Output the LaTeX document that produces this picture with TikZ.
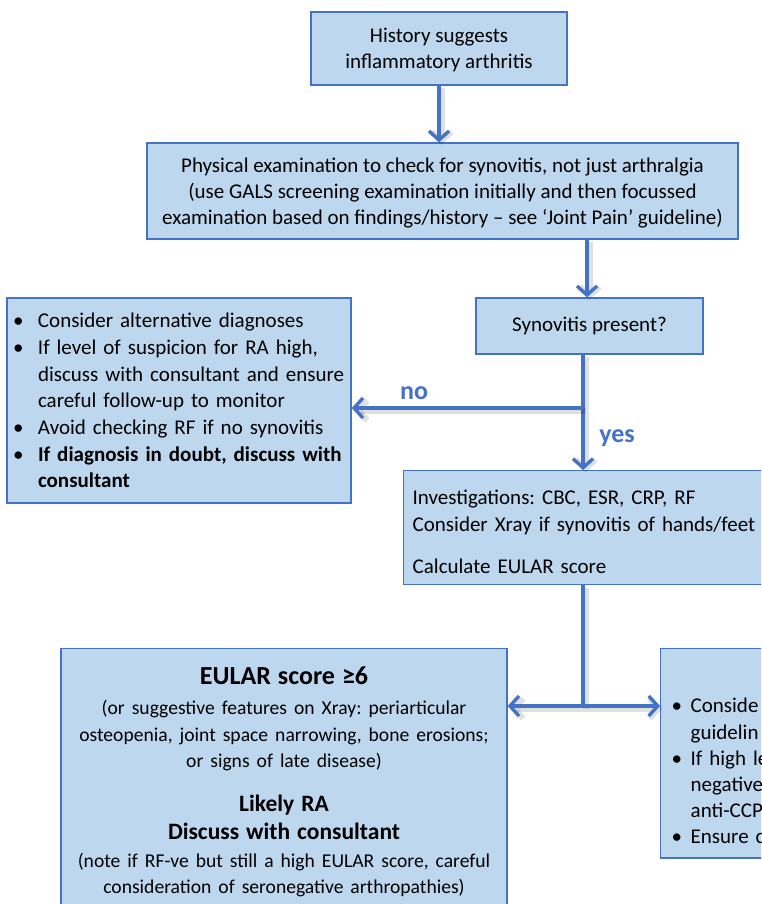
\documentclass[tikz,border=0pt]{standalone}
\usepackage{fontspec}
\setmainfont{Carlito}
\usepackage{tikz}
\usetikzlibrary{arrows.meta,positioning,calc}
\usepackage{xcolor}
\definecolor{flowblue}{HTML}{4472C4}
\definecolor{boxfill}{HTML}{BDD7EE}
\newcommand{\bodysize}{\fontsize{21}{26.2}\selectfont\frenchspacing}
\newcommand{\smallsize}{\fontsize{19.6}{26.5}\selectfont}
\newcommand{\bul}[1][19pt]{\makebox[#1][l]{\textbullet}}
\newcommand{\hang}[1][19pt]{\hspace*{#1}}

\begin{document}
\begin{tikzpicture}[
  x=1pt, y=-1pt,
  box/.style={draw=flowblue, line width=1.4pt, fill=boxfill, align=center, font=\bodysize, inner sep=0pt},
  listbox/.style={box, align=left},
  arr/.style={draw=flowblue, line width=3.4pt, -{Straight Barb[length=9pt,width=20pt]}, shade},
  plain/.style={draw=flowblue, line width=3.4pt, shade},
  shade/.style={preaction={draw=black, opacity=0.12, line width=6pt, transform canvas={shift={(2.5pt,-2.5pt)}}}},
  lbl/.style={text=flowblue, font=\fontsize{26}{30}\selectfont\bfseries, inner sep=0pt}
]
  \useasboundingbox (0,0) rectangle (761,904);
  \clip (0,0) rectangle (761,904);

  \node[box, minimum width=256pt, minimum height=73pt, text depth=0pt] (hist) at (439,48.5) {History suggests\\inflammatory arthritis};
  \node[box, minimum width=591pt, minimum height=96pt, text depth=0pt] (exam) at (442.5,191) {Physical examination to check for synovitis, not just arthralgia\\(use GALS screening examination initially and then focussed\\examination based on findings/history -- see ‘Joint Pain’ guideline)};
  \node[box, minimum width=227pt, minimum height=56pt] (syn) at (589.5,326) {Synovitis present?};
  \node[listbox, minimum width=344pt, minimum height=205pt, text width=332pt, inner xsep=6pt,
        font=\fontsize{21}{26.7}\selectfont\frenchspacing] (alt) at (179,400.5) {\bul[25pt]Consider alternative diagnoses\\
    \bul[25pt]If level of suspicion for RA high,\\
    \hang[25pt]discuss with consultant and ensure\\
    \hang[25pt]careful follow-up to monitor\\
    \bul[25pt]Avoid checking RF if no synovitis\\
    \bul[25pt]\textbf{If diagnosis in doubt, discuss with}\\
    \hang[25pt]\textbf{consultant}};
  \node[listbox, anchor=north west, minimum width=500pt, minimum height=114pt, text width=482pt, inner xsep=9pt] (inv) at (403,470) {\rule{0pt}{23pt}Investigations: CBC, ESR, CRP, RF\\
    Consider Xray if synovitis of hands/feet\\[16pt]
    Calculate EULAR score};
  \node[box, anchor=north, text width=446pt, inner ysep=18pt] (high) at (284,648) {\fontsize{26}{31}\selectfont\textbf{EULAR score ≥6}\\[4pt]
    \smallsize (or suggestive features on Xray: periarticular\\
    osteopenia, joint space narrowing, bone erosions;\\
    or signs of late disease)\\[16pt]
    \fontsize{23.5}{28}\selectfont\textbf{Likely RA}\\
    \textbf{Discuss with consultant}\\[1pt]
    \smallsize (note if RF-ve but still a high EULAR score, careful\\
    consideration of seronegative arthropathies)};
  \node[listbox, anchor=north west, minimum width=500pt, text width=478pt, inner xsep=11pt, inner ysep=14pt] (low) at (660,648) {\mbox{}\\[24pt]
    \bul Conside\\
    \hang guidelin\\
    \bul If high le\\
    \hang negative\\
    \hang anti-CCP\\
    \bul Ensure c};

  \coordinate (split) at (583,408);
  \coordinate (fork) at (583,706);
  \draw[arr] (hist.south) -- (hist.south |- exam.north);
  \draw[arr] (exam.south -| 587,0) -- (syn.north -| 587,0);
  \draw[arr] (syn.south -| split) -- (split |- inv.north);
  \draw[arr] (split) -- (alt.east |- split);
  \draw[plain] (inv.south -| fork) -- (fork);
  \draw[arr] (fork) -- (high.east |- fork);
  \draw[arr] (fork) -- (low.west |- fork);
  \node[lbl] (no) at (414,393) {no};
  \node[lbl] (yes) at (617,438) {yes};
\end{tikzpicture}
\end{document}
